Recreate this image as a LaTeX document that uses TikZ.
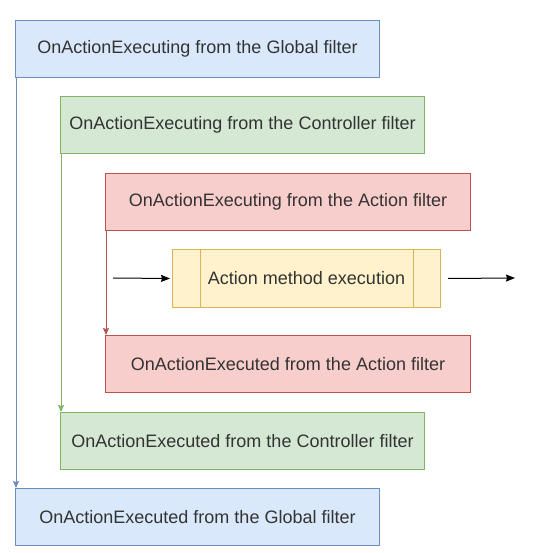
\documentclass[tikz,border=0pt]{standalone}
\usepackage{fontspec}
\setmainfont{Liberation Sans}
\usetikzlibrary{arrows.meta, positioning}
\definecolor{globalfill}{HTML}{DAE8FC}
\definecolor{globaldraw}{HTML}{6C8EBF}
\definecolor{ctrlfill}{HTML}{D5E8D4}
\definecolor{ctrldraw}{HTML}{82B366}
\definecolor{actfill}{HTML}{F8CECC}
\definecolor{actdraw}{HTML}{B85450}
\definecolor{procfill}{HTML}{FFF2CC}
\definecolor{procdraw}{HTML}{D6B656}
\tikzstyle{filterbox} = [rectangle, line width=1pt, minimum width=364pt, minimum height=57pt, inner sep=0pt, anchor=north west, text centered, text=black!80, font=\fontsize{18pt}{22pt}\selectfont]
\tikzstyle{globalbox} = [filterbox, fill=globalfill, draw=globaldraw]
\tikzstyle{ctrlbox} = [filterbox, fill=ctrlfill, draw=ctrldraw]
\tikzstyle{actbox} = [filterbox, minimum width=365pt, fill=actfill, draw=actdraw]
\tikzstyle{procbox} = [filterbox, minimum width=268pt, minimum height=58pt, fill=procfill, draw=procdraw]
\tikzstyle{arrow} = [line width=1pt, -{Stealth[length=9pt, width=7pt, inset=1pt]}]
\tikzstyle{flowarrow} = [line width=1pt, -{Stealth[length=7pt, width=6pt, inset=1pt]}]
\begin{document}
\begin{tikzpicture}[x=1pt, y=-1pt]
		\useasboundingbox (0,0) rectangle (558,553);
		\node (GlobalStart) [globalbox] at (15,20) {OnActionExecuting from the Global filter};
		\node (ControllerStart) [ctrlbox] at (60,96) {OnActionExecuting from the Controller filter};
		\node (ActionStart) [actbox] at (105,173) {OnActionExecuting from the Action filter};
		\node (Process) [procbox] at (172,249) {Action method execution};
		\node (ActionEnd) [actbox] at (105,335) {OnActionExecuted from the Action filter};
		\node (ControllerEnd) [ctrlbox] at (60,412) {OnActionExecuted from the Controller filter};
		\node (GlobalEnd) [globalbox] at (15,488) {OnActionExecuted from the Global filter};
		
		\draw [procdraw, line width=1pt] ([xshift=28pt]Process.north west) -- ([xshift=28pt]Process.south west);
		\draw [procdraw, line width=1pt] ([xshift=-28pt]Process.north east) -- ([xshift=-28pt]Process.south east);
		
		\coordinate (ProcessIn) at (113,278);
		\coordinate (ProcessOut) at (515,278);
		
		\draw [flowarrow, globaldraw] ([xshift=1pt]GlobalStart.south west) -- ([xshift=1pt]GlobalEnd.north west);
		\draw [flowarrow, ctrldraw] ([xshift=1pt]ControllerStart.south west) -- ([xshift=1pt]ControllerEnd.north west);
		\draw [flowarrow, actdraw] ([xshift=1pt]ActionStart.south west) -- ([xshift=1pt]ActionEnd.north west);
		\draw [arrow] (ProcessIn) -- ([xshift=-2pt]Process.west);
		\draw [arrow] ([xshift=7pt]Process.east) -- (ProcessOut);
\end{tikzpicture}
\end{document}
